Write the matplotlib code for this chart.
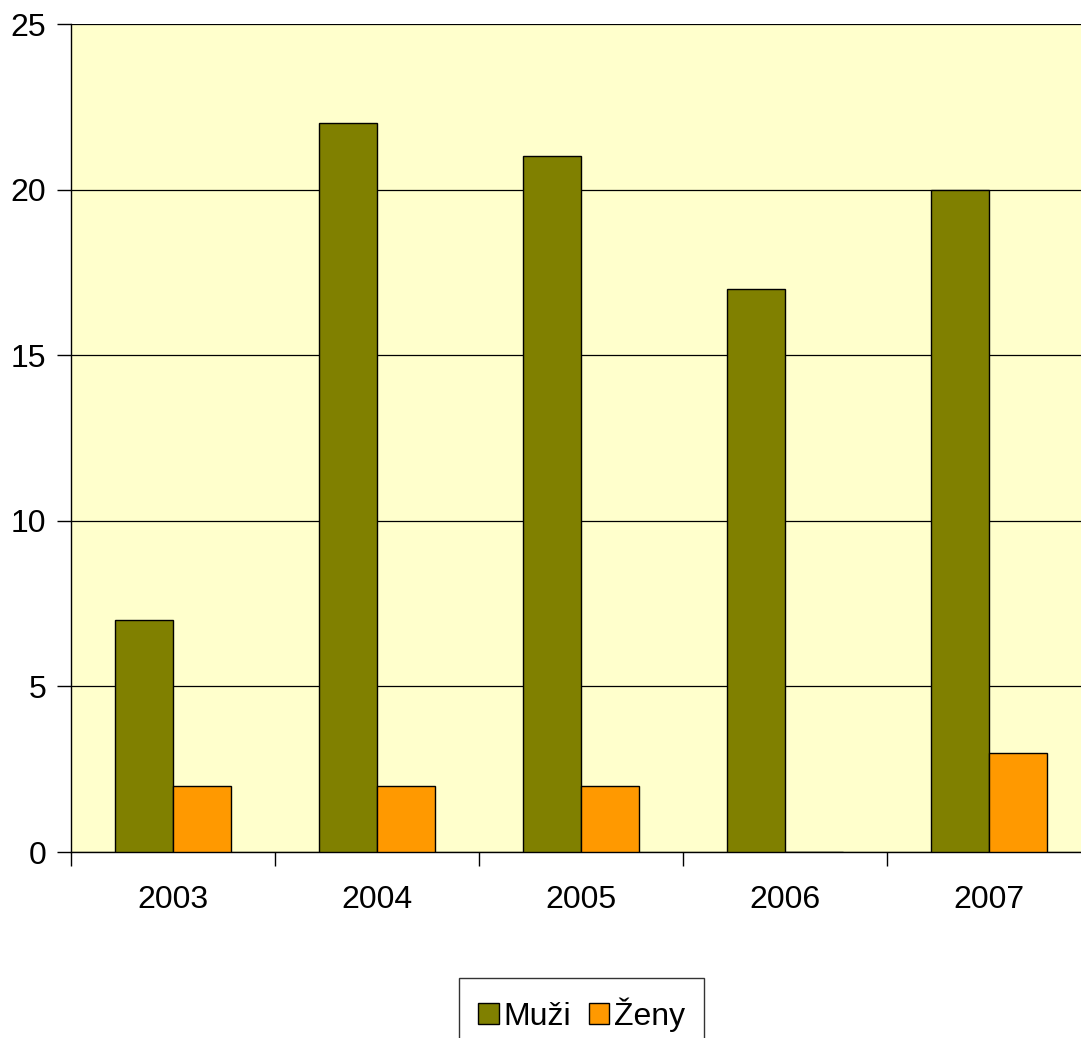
import matplotlib
matplotlib.use('Agg')
import matplotlib.pyplot as plt
import numpy as np

plt.rcParams['font.family'] = ['Liberation Sans', 'DejaVu Sans']

years = ['2003', '2004', '2005', '2006', '2007']
muzi = [7, 22, 21, 17, 20]
zeny = [2, 2, 2, 0, 3]

fig = plt.figure(figsize=(10.81, 10.38), dpi=100)
ax = fig.add_axes([71 / 1081, 186 / 1038, 1020 / 1081, 828 / 1038])
ax.set_facecolor('#FFFFCC')

x = np.arange(len(years))
w = 0.284
ax.bar(x - w / 2, muzi, w, color='#808000', edgecolor='black', lw=1, zorder=3, label='Muži')
ax.bar(x + w / 2, zeny, w, color='#FF9900', edgecolor='black', lw=1, zorder=3, label='Ženy')

ax.set_ylim(0, 25)
ax.set_xlim(-0.5, 4.5)
ax.set_yticks([0, 5, 10, 15, 20, 25])
ax.yaxis.grid(True, color='black', lw=0.9, zorder=1)
ax.set_xticks(x)
ax.set_xticklabels(years)
ax.set_xticks(np.arange(-0.5, 4.6, 1), minor=True)
ax.tick_params(axis='x', which='major', length=0, pad=24, labelsize=23)
ax.tick_params(axis='x', which='minor', length=10, width=1)
ax.tick_params(axis='y', length=10, width=1, labelsize=23, pad=8)
for s in ['top', 'right']:
    ax.spines[s].set_visible(False)
ax.spines['left'].set_linewidth(1)
ax.spines['bottom'].set_linewidth(1)

leg = fig.legend(loc='upper center', bbox_to_anchor=(0.538, 1 - 978 / 1038), ncol=2,
                 fontsize=23, frameon=True, fancybox=False, edgecolor='black',
                 handlelength=0.65, handleheight=0.65, handletextpad=0.15,
                 columnspacing=0.55, borderpad=0.6, borderaxespad=0)
leg.get_frame().set_linewidth(1)

fig.savefig('out.png', dpi=100)
